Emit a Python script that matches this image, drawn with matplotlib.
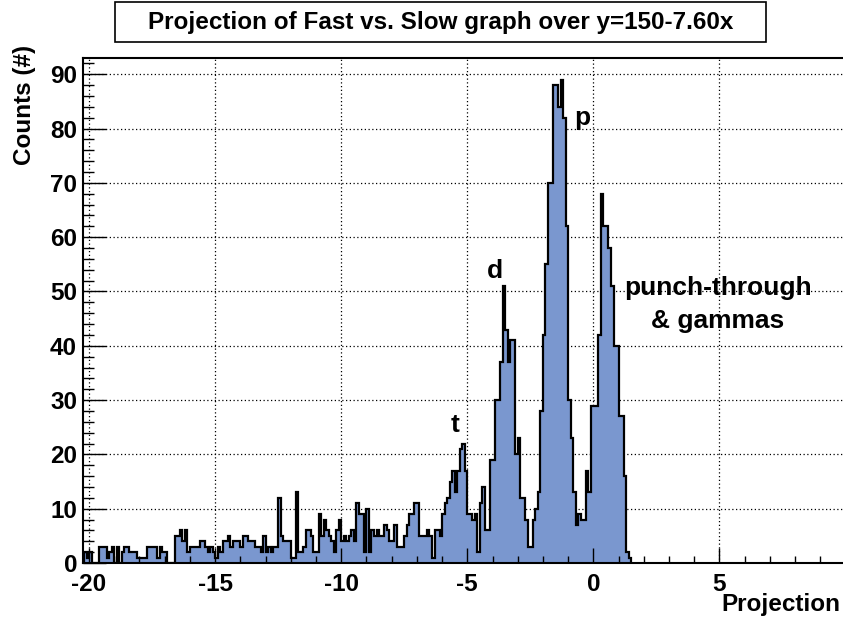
import numpy as np
import matplotlib
matplotlib.use("Agg")
import matplotlib.pyplot as plt
from matplotlib.patches import Rectangle

plt.rcParams['font.family'] = ['Liberation Sans', 'DejaVu Sans']
plt.rcParams['font.weight'] = 'bold'
plt.rcParams['axes.unicode_minus'] = False

# ---- data ----
bin_first_edge = -20.2
bin_width = 0.1
counts = [
    2, 1, 2, 0, 0, 0, 3, 3, 3, 1,
    2, 3, 0, 3, 0, 2, 3, 3, 2, 2,
    2, 1, 1, 1, 1, 3, 3, 3, 3, 1,
    3, 2, 2, 0, 0, 0, 5, 5, 6, 4,
    6, 2, 3, 3, 3, 3, 4, 4, 3, 2,
    3, 2, 1, 3, 2, 4, 4, 5, 3, 4,
    4, 4, 3, 5, 5, 4, 4, 4, 3, 3,
    2, 5, 2, 3, 2, 3, 3, 12, 5, 4,
    4, 4, 1, 1, 13, 2, 2, 3, 6, 6,
    5, 2, 2, 9, 5, 8, 6, 5, 4, 2,
    6, 8, 4, 5, 4, 5, 6, 4, 11, 9,
    9, 2, 10, 2, 6, 5, 6, 5, 5, 7,
    6, 4, 4, 7, 3, 3, 3, 5, 7, 9,
    9, 11, 11, 5, 5, 5, 6, 5, 1, 6,
    6, 5, 9, 11, 12, 15, 17, 13, 17, 21,
    22, 17, 9, 9, 8, 9, 2, 11, 14, 6,
    6, 19, 19, 30, 30, 37, 51, 43, 37, 41,
    41, 20, 23, 12, 12, 8, 3, 3, 8, 10,
    13, 28, 42, 55, 70, 70, 88, 88, 84, 89,
    82, 62, 30, 23, 13, 7, 9, 8, 8, 17,
    13, 29, 29, 29, 42, 68, 62, 62, 58, 51,
    40, 40, 27, 27, 16, 2, 1,
]
x_major_ticks = [-20, -15, -10, -5, 0, 5]
y_major_ticks = [0, 10, 20, 30, 40, 50, 60, 70, 80, 90]
peak_labels = ["t", "d", "p"]
peak_label_x = [-5.48, -3.9, -0.45]
peak_label_y = [25.5, 53.7, 82.0]
title = "Projection of Fast vs. Slow graph over y=150-7.60x"

edges = bin_first_edge + bin_width * np.arange(len(counts) + 1)

W, H = 843, 618
fig = plt.figure(figsize=(W / 100, H / 100), dpi=100)
fig.patch.set_facecolor('white')
ax = fig.add_axes([83 / W, 55 / H, 760 / W, 505 / H])
ax.set_xlim(-20.24, 9.9)
ax.set_ylim(0, 93)

# grid (behind bars)
for xv in x_major_ticks:
    ax.axvline(xv, color='black', lw=0.9, ls=(0, (1, 2)), zorder=0.5)
for yv in y_major_ticks[1:]:
    ax.axhline(yv, color='black', lw=0.9, ls=(0, (1, 2)), zorder=0.5)

fill = '#7a97cf'
ax.stairs(counts, edges, fill=True, facecolor=fill, edgecolor='none', zorder=1)
ax.stairs(counts, edges, color='black', lw=1.6, zorder=2)

ax.set_xticks(x_major_ticks)
ax.set_xticks(np.arange(-20, 10, 1), minor=True)
ax.set_yticks(y_major_ticks)
ax.set_yticks(np.arange(0, 93, 2), minor=True)
ax.tick_params(axis='both', which='both', direction='in', width=1.0,
               top=False, right=False, labelsize=17.5, zorder=5)
ax.tick_params(axis='x', which='major', length=10.8, pad=7)
ax.tick_params(axis='x', which='minor', length=5.4)
ax.tick_params(axis='y', which='major', length=16.4, pad=4.3)
ax.tick_params(axis='y', which='minor', length=8.2)
for lab in ax.get_xticklabels() + ax.get_yticklabels():
    lab.set_fontweight('bold')
for sp in ax.spines.values():
    sp.set_linewidth(1.5)
    sp.set_zorder(6)
ax.spines['right'].set_visible(False)

for s, xv, yv in zip(peak_labels, peak_label_x, peak_label_y):
    ax.text(xv, yv, s, fontsize=19, fontweight='bold', ha='center', va='center')
ax.text(4.94, 50.7, "punch-through", fontsize=19, fontweight='bold', ha='center', va='center')
ax.text(4.94, 44.5, "& gammas", fontsize=19, fontweight='bold', ha='center', va='center')

# title box
fig.patches.append(Rectangle((115 / W, 1 - 42 / H), 651 / W, 40 / H, transform=fig.transFigure,
                             facecolor='white', edgecolor='black', lw=1.2, zorder=3))
fig.text(441 / W, 1 - 22 / H, title, fontsize=17.5, fontweight='bold', ha='center', va='center', zorder=4)

fig.text(24 / W, 1 - 45 / H, "Counts (#)", rotation=90, fontsize=17.5, fontweight='bold', ha='center', va='top')
fig.text(840 / W, 1 - 604 / H, "Projection", fontsize=17.5, fontweight='bold', ha='right', va='center')

fig.savefig("out.png", dpi=100)
